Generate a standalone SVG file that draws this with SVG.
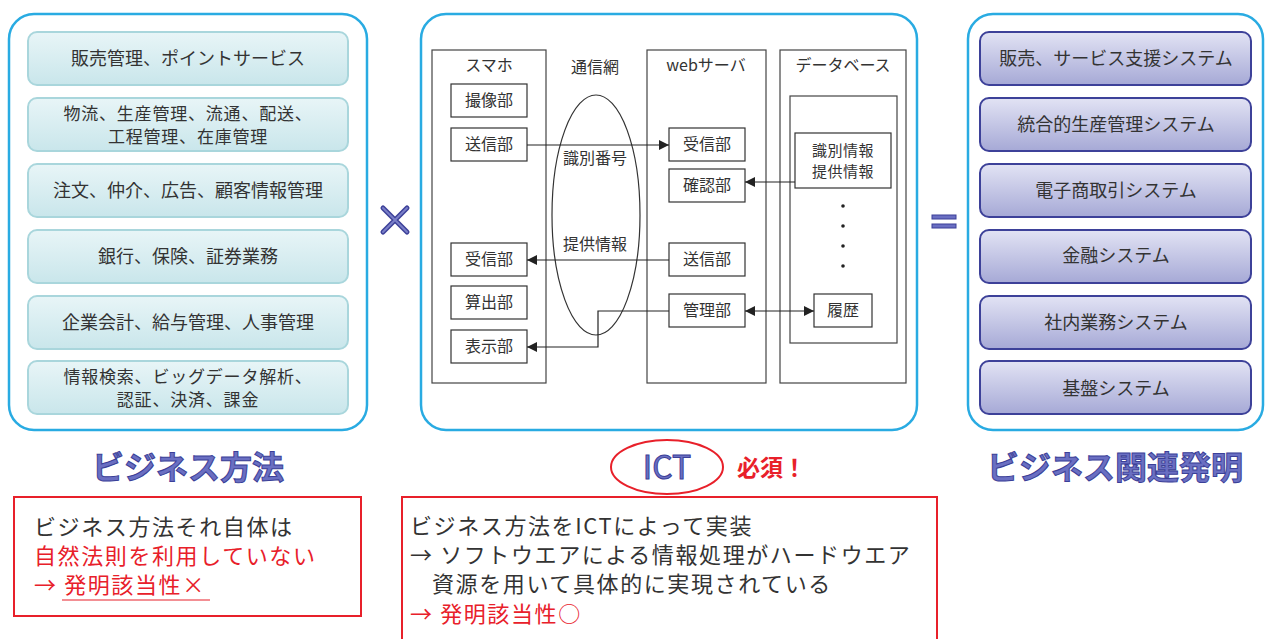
<svg xmlns="http://www.w3.org/2000/svg" width="1266" height="639" viewBox="0 0 1266 639">
<defs>
<linearGradient id="gc" x1="0" y1="0" x2="0" y2="1"><stop offset="0" stop-color="#e8f5f7"/><stop offset="1" stop-color="#c9e6eb"/></linearGradient>
<linearGradient id="gp" x1="0" y1="0" x2="0" y2="1"><stop offset="0" stop-color="#e2e3f4"/><stop offset="1" stop-color="#a6a9d6"/></linearGradient>
<marker id="ah" viewBox="0 0 10 10" refX="10" refY="5" markerWidth="10" markerHeight="10" markerUnits="userSpaceOnUse" orient="auto-start-reverse"><path d="M0,0 L10,5 L0,10 z" fill="#222"/></marker>
<style>
text{font-family:"Noto Sans CJK JP","Noto Sans",sans-serif;}
.outer{fill:#fff;stroke:#29abe2;stroke-width:2.5;}
.lb{fill:url(#gc);stroke:#a9d6dc;stroke-width:2;}
.rb{fill:url(#gp);stroke:#3d4199;stroke-width:2;}
.bt{font-size:18px;fill:#333;text-anchor:middle;}
.bt2{font-size:17px;letter-spacing:0.8px;fill:#333;text-anchor:middle;}
.col{fill:#fff;stroke:#444;stroke-width:1.2;}
.sb{fill:#fff;stroke:#333;stroke-width:1.2;}
.st{font-size:16px;fill:#333;text-anchor:middle;}
.st2{font-size:15px;letter-spacing:0.5px;fill:#333;text-anchor:middle;}
.ln{fill:none;stroke:#222;stroke-width:1.2;}
.title{font-size:32px;fill:#6a6fc2;stroke:#3b3f98;stroke-width:1;text-anchor:middle;font-weight:bold;}
.red{fill:#fff;stroke:#e8202a;stroke-width:2;}
.nt{font-size:22px;letter-spacing:1.6px;fill:#333;}
.rt{fill:#e8202a;}
</style>
</defs>

<g id="left-panel">
<rect class="outer" x="9" y="14" width="358" height="416" rx="25"/>
<g id="l1"><rect class="lb" x="28" y="32" width="320" height="53" rx="9"/><text class="bt" x="188" y="65">販売管理、ポイントサービス</text></g>
<g id="l2"><rect class="lb" x="28" y="98" width="320" height="53" rx="9"/><text class="bt2" x="188" y="120">物流、生産管理、流通、配送、</text><text class="bt2" x="188" y="143">工程管理、在庫管理</text></g>
<g id="l3"><rect class="lb" x="28" y="164" width="320" height="53" rx="9"/><text class="bt" x="188" y="197">注文、仲介、広告、顧客情報管理</text></g>
<g id="l4"><rect class="lb" x="28" y="230" width="320" height="53" rx="9"/><text class="bt" x="188" y="263">銀行、保険、証券業務</text></g>
<g id="l5"><rect class="lb" x="28" y="296" width="320" height="53" rx="9"/><text class="bt" x="188" y="329">企業会計、給与管理、人事管理</text></g>
<g id="l6"><rect class="lb" x="28" y="361" width="320" height="53" rx="9"/><text class="bt2" x="188" y="383">情報検索、ビッグデータ解析、</text><text class="bt2" x="188" y="406">認証、決済、課金</text></g>
</g>

<g id="times">
<path d="M383,208 L407,232 M407,208 L383,232" stroke="#3d4199" stroke-width="5" stroke-linecap="round"/>
<path d="M383,208 L407,232 M407,208 L383,232" stroke="#7a7fc8" stroke-width="2" stroke-linecap="round"/>
</g>

<g id="middle-panel">
<rect class="outer" x="421" y="14" width="496" height="416" rx="25"/>
<g id="smartphone"><rect class="col" x="432" y="50" width="114" height="333"/><text class="st" x="489" y="71">スマホ</text></g>
<g id="webserver"><rect class="col" x="647" y="50" width="119" height="333"/><text class="st" x="706" y="71">webサーバ</text></g>
<g id="database"><rect class="col" x="780" y="50" width="126" height="333"/><text class="st" x="843" y="71">データベース</text>
<rect class="col" x="790" y="96" width="107" height="247"/></g>
<g id="network"><ellipse cx="596" cy="215" rx="44" ry="120" fill="none" stroke="#333" stroke-width="1.2"/><text class="st" x="595" y="73">通信網</text></g>
<g id="s-camera"><rect class="sb" x="451" y="84" width="76" height="33"/><text class="st" x="489" y="106">撮像部</text></g>
<g id="s-send"><rect class="sb" x="451" y="128" width="76" height="33"/><text class="st" x="489" y="150">送信部</text></g>
<g id="s-recv"><rect class="sb" x="451" y="243" width="76" height="33"/><text class="st" x="489" y="265">受信部</text></g>
<g id="s-calc"><rect class="sb" x="451" y="286" width="76" height="33"/><text class="st" x="489" y="308">算出部</text></g>
<g id="s-disp"><rect class="sb" x="451" y="330" width="76" height="33"/><text class="st" x="489" y="352">表示部</text></g>
<g id="w-recv"><rect class="sb" x="669" y="128" width="76" height="33"/><text class="st" x="707" y="150">受信部</text></g>
<g id="w-check"><rect class="sb" x="669" y="169" width="76" height="33"/><text class="st" x="707" y="191">確認部</text></g>
<g id="w-send"><rect class="sb" x="669" y="243" width="76" height="33"/><text class="st" x="707" y="265">送信部</text></g>
<g id="w-manage"><rect class="sb" x="669" y="294" width="76" height="33"/><text class="st" x="707" y="316">管理部</text></g>
<g id="d-info"><rect class="sb" x="795" y="133" width="96" height="55"/><text class="st2" x="843" y="156">識別情報</text><text class="st2" x="843" y="177">提供情報</text></g>
<g id="d-dots" fill="#222"><circle cx="843" cy="206" r="1.8"/><circle cx="843" cy="226" r="1.8"/><circle cx="843" cy="246" r="1.8"/><circle cx="843" cy="266" r="1.8"/></g>
<g id="d-history"><rect class="sb" x="814" y="294" width="58" height="33"/><text class="st" x="843" y="316">履歴</text></g>
<text class="st" x="595" y="164">識別番号</text>
<text class="st" x="595" y="250">提供情報</text>
</g>

<g id="connectors">
<path class="ln" d="M527,145 L669,145" marker-end="url(#ah)"/>
<path class="ln" d="M795,182 L745,182" marker-end="url(#ah)"/>
<path class="ln" d="M669,260 L527,260" marker-end="url(#ah)"/>
<path class="ln" d="M669,311 L598,311 L598,347 L527,347" marker-end="url(#ah)"/>
<path class="ln" d="M745,311 L814,311" marker-start="url(#ah)" marker-end="url(#ah)"/>
</g>

<g id="equals">
<rect x="932" y="215" width="24" height="4" fill="#6a6fc2" stroke="#3b3f98" stroke-width="1"/>
<rect x="932" y="224" width="24" height="4" fill="#6a6fc2" stroke="#3b3f98" stroke-width="1"/>
</g>

<g id="right-panel">
<rect class="outer" x="968" y="14" width="295" height="416" rx="25"/>
<g id="r1"><rect class="rb" x="980" y="32" width="271" height="53" rx="9"/><text class="bt" x="1116" y="65">販売、サービス支援システム</text></g>
<g id="r2"><rect class="rb" x="980" y="98" width="271" height="53" rx="9"/><text class="bt" x="1116" y="131">統合的生産管理システム</text></g>
<g id="r3"><rect class="rb" x="980" y="164" width="271" height="53" rx="9"/><text class="bt" x="1116" y="197">電子商取引システム</text></g>
<g id="r4"><rect class="rb" x="980" y="230" width="271" height="53" rx="9"/><text class="bt" x="1116" y="262">金融システム</text></g>
<g id="r5"><rect class="rb" x="980" y="296" width="271" height="53" rx="9"/><text class="bt" x="1116" y="329">社内業務システム</text></g>
<g id="r6"><rect class="rb" x="980" y="361" width="271" height="53" rx="9"/><text class="bt" x="1116" y="395">基盤システム</text></g>
</g>

<g id="titles">
<text class="title" x="188" y="479">ビジネス方法</text>
<ellipse cx="667" cy="467" rx="56" ry="27" fill="none" stroke="#e8202a" stroke-width="2"/>
<text class="title" x="667" y="479" style="font-weight:normal">ICT</text>
<text x="737" y="476" font-size="23" font-weight="bold" fill="#e8202a" style="font-family:'Noto Sans CJK JP',sans-serif">必須！</text>
<text class="title" x="1115" y="479">ビジネス関連発明</text>
</g>

<g id="note-left">
<rect class="red" x="14" y="497" width="347" height="119"/>
<text class="nt" x="34" y="535">ビジネス方法それ自体は</text>
<text class="nt rt" x="34" y="564">自然法則を利用していない</text>
<text class="nt rt" x="34" y="593">→ 発明該当性×</text>
<line x1="62" y1="600" x2="210" y2="600" stroke="#e8202a" stroke-width="1.2"/>
</g>

<g id="note-right">
<rect class="red" x="402" y="497" width="535" height="150"/>
<text class="nt" x="410" y="534">ビジネス方法をICTによって実装</text>
<text class="nt" x="410" y="563">→ ソフトウエアによる情報処理がハードウエア</text>
<text class="nt" x="432" y="592">資源を用いて具体的に実現されている</text>
<text class="nt rt" x="410" y="622">→ 発明該当性○</text>
</g>
</svg>
